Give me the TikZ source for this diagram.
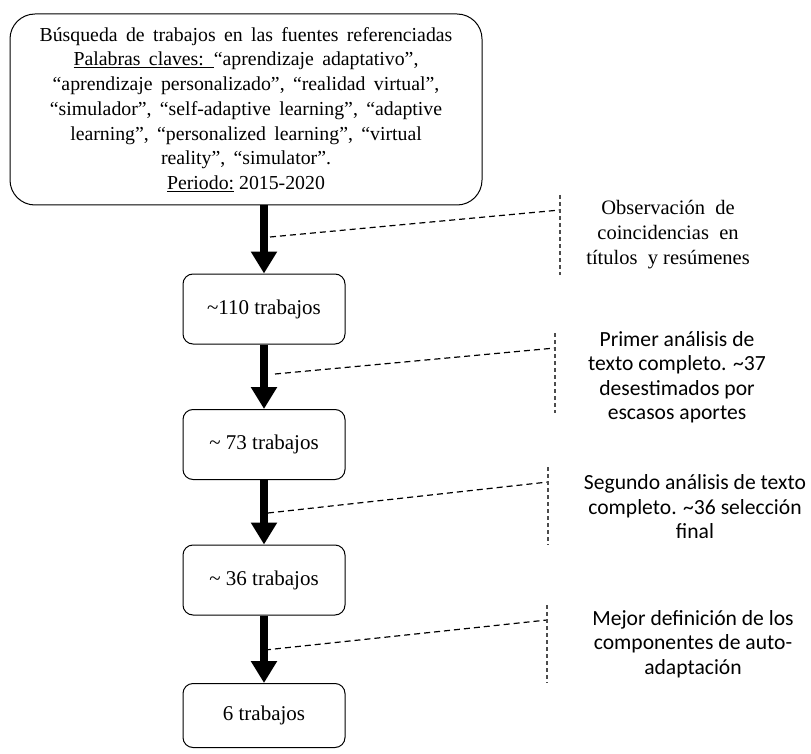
\documentclass[tikz,border=0pt]{standalone}
\usepackage{fontspec}
\setmainfont{Liberation Serif}
\newfontfamily\carlito{Carlito}
\usepackage{tikz}
\usetikzlibrary{arrows.meta,positioning}
\newcommand{\anchos}[1]{\spaceskip=#1\relax}
\tikzset{caja/.style={draw, rounded corners=10pt, line width=1pt,
        minimum width=162pt, minimum height=70pt,
        font=\fontsize{21}{24}\selectfont},
flecha/.style={line width=8pt, -{Triangle[width=25pt,length=22pt]}},
guion/.style={dash pattern=on 6pt off 4pt, line width=1.2pt},
barra/.style={dash pattern=on 4pt off 3pt, line width=1.1pt, black!70},
nota/.style={align=center, font=\carlito\fontsize{21.6}{24.5}\selectfont}
}

\begin{document}
\begin{tikzpicture}[x=1pt, y=1pt, node distance=135.5pt, on grid]
        \useasboundingbox (0,0) rectangle (811,-754);

        \node[draw, rounded corners=25pt, line width=1pt, minimum width=472pt,
              minimum height=191pt, align=center,
              font=\fontsize{19.8}{24.7}\selectfont]
              (top) at (246,-109.5)
              {\anchos{0.42em}Búsqueda de trabajos en las fuentes referenciadas\\
               \anchos{0.42em}\underline{Palabras claves: }“aprendizaje adaptativo”,\\
               \anchos{0.42em}“aprendizaje personalizado”, “realidad virtual”,\\
               \anchos{0.42em}“simulador”, “self-adaptive learning”, “adaptive\\
               \anchos{0.42em}learning”, “personalized learning”, “virtual\\
               \anchos{0.42em}reality”, “simulator”.\\
               \underline{Periodo:} 2015-2020};

        \node[caja] (b1) at (264,-309)  {\textasciitilde110 trabajos};
        \node[caja] (b2) [below =of b1] {\textasciitilde\ 73 trabajos};
        \node[caja] (b3) [below =of b2] {\textasciitilde\ 36 trabajos};
        \node[caja, minimum height=64pt] (b4) [below =of b3] {6 trabajos};

        \draw[flecha] (b1 |- top.south) -- (b1.north);
        \draw[flecha] (b1.south) -- (b2.north);
        \draw[flecha] (b2.south) -- (b3.north);
        \draw[flecha] (b3.south) -- (b4.north);

        % notas de la derecha
        \node[align=center, font=\fontsize{20.5}{25}\selectfont]
              (n1) at (668,-235) {Observación \ de\\coincidencias \ en\\títulos \ y resúmenes};
        \node[nota] (n2) at (677,-377) {Primer análisis de\\texto completo. \textasciitilde37\\desestimados por\\escasos aportes};
        \node[nota] (n3) at (695,-507) {Segundo análisis de texto\\completo. \textasciitilde36 selección\\final};
        \node[nota] (n4) at (693,-644) {Mejor definición de los\\componentes de auto-\\adaptación};

        % lineas punteadas
        \coordinate (p1) at (270,-237);  \coordinate (q1) at (560,-210);
        \coordinate (p2) at (275,-374);  \coordinate (q2) at (555,-348);
        \coordinate (p3) at (268,-513);  \coordinate (q3) at (548,-482);
        \coordinate (p4) at (265,-650);  \coordinate (q4) at (547,-620);

        \draw[guion] (p1) -- (q1);
        \draw[guion] (p2) -- (q2);
        \draw[guion] (p3) -- (q3);
        \draw[guion] (p4) -- (q4);

        \draw[barra] (560,-195) -- (560,-275);
        \draw[barra] (555,-333) -- (555,-413);
        \draw[barra] (548,-467) -- (548,-545);
        \draw[barra] (547,-605) -- (547,-683);
\end{tikzpicture}
\end{document}
